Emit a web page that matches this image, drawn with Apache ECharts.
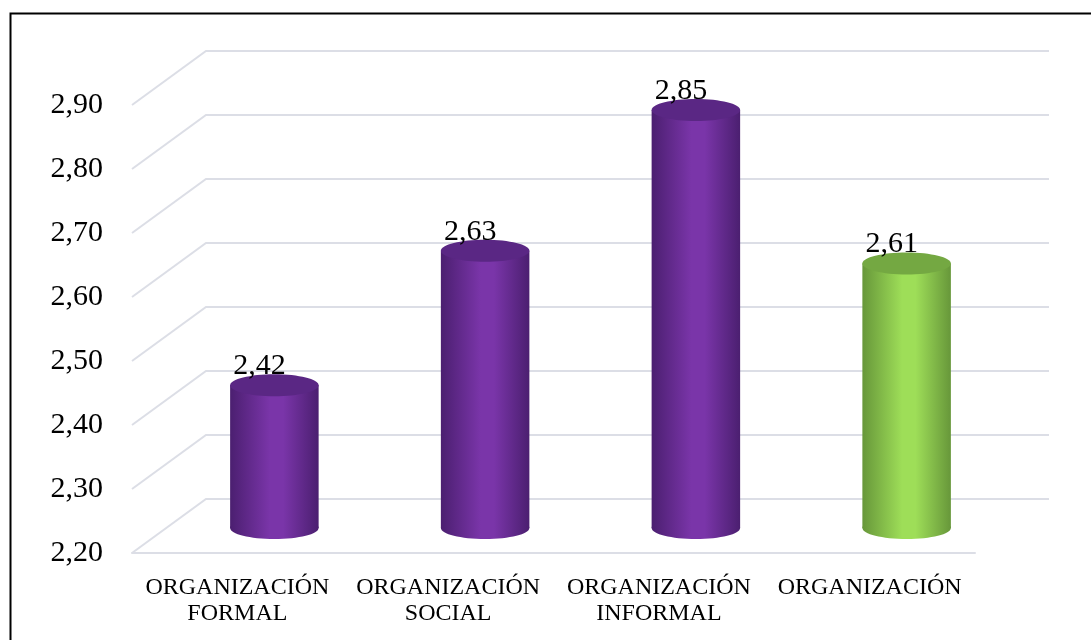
<!DOCTYPE html>
<html>
<head>
<meta charset="utf-8">
<script src="https://cdn.jsdelivr.net/npm/echarts@6/dist/echarts.min.js"></script>
<style>
  html, body { margin: 0; padding: 0; background: #fff; }
  #main { width: 1091px; height: 640px; }
</style>
</head>
<body>
<div id="main"></div>
<script>
// Data
var categories = ['ORGANIZACIÓN\nFORMAL', 'ORGANIZACIÓN\nSOCIAL', 'ORGANIZACIÓN\nINFORMAL', 'ORGANIZACIÓN'];
var values = [2.42, 2.63, 2.85, 2.61];
var yTicks = [2.2, 2.3, 2.4, 2.5, 2.6, 2.7, 2.8, 2.9];

// depth offset of the 3d look (pixels)
var DX = 74, DY = 54;

var purple = { edge: '#4b1f70', mid: '#7a35a9', top: '#5a2784' };
var green = { edge: '#67973a', mid: '#9ede58', top: '#74a842' };

function fmt(v) {
  return v.toFixed(2).replace('.', ',');
}

function renderGrid(params, api) {
  var cs = params.coordSys;
  var y = api.coord([0, api.value(1)])[1];
  return {
    type: 'polyline',
    shape: { points: [[cs.x, y], [cs.x + DX, y - DY], [cs.x + cs.width + DX, y - DY]] },
    style: { stroke: '#dcdee6', lineWidth: 2, fill: null }
  };
}

function renderBar(params, api) {
  var idx = api.value(0);
  var top = api.coord([idx, api.value(1)]);
  var base = api.coord([idx, yTicks[0]]);
  var w = api.size([1, 0])[0] * 0.42;
  var cx = top[0] + DX / 2;
  var ty = top[1] - DY / 2;
  var by = base[1] - DY / 2 + 2;
  var rx = w / 2, ry = 11;
  var c = idx === 3 ? green : purple;
  var grad = new echarts.graphic.LinearGradient(0, 0, 1, 0, [
    { offset: 0, color: c.edge },
    { offset: 0.45, color: c.mid },
    { offset: 0.6, color: c.mid },
    { offset: 1, color: c.edge }
  ]);
  return {
    type: 'group',
    children: [
      { type: 'ellipse', shape: { cx: cx, cy: by, rx: rx, ry: ry }, style: { fill: grad } },
      { type: 'rect', shape: { x: cx - rx, y: ty, width: w, height: by - ty }, style: { fill: grad } },
      { type: 'ellipse', shape: { cx: cx, cy: ty, rx: rx, ry: ry }, style: { fill: c.top } },
      {
        type: 'text',
        x: cx - 15, y: ty - 4,
        style: {
          text: fmt(api.value(1)),
          fill: '#000',
          font: '30px "Liberation Serif", "Times New Roman", serif',
          align: 'center',
          verticalAlign: 'bottom'
        }
      }
    ]
  };
}

var myChart = echarts.init(document.getElementById('main'));

var option = {
  animation: false,
  backgroundColor: '#fff',
  graphic: [
    {
      type: 'rect',
      left: 8, top: 11,
      shape: { width: 1100, height: 700 },
      style: { fill: null, stroke: '#000', lineWidth: 2 }
    }
  ],
  grid: { left: 132, right: 116, top: 105, bottom: 87 },
  xAxis: {
    type: 'category',
    data: categories,
    axisLine: { show: true, lineStyle: { color: '#dcdee6', width: 2 } },
    axisTick: { show: false },
    axisLabel: {
      interval: 0,
      color: '#000',
      fontFamily: '"Liberation Serif", "Times New Roman", serif',
      fontSize: 24,
      lineHeight: 26,
      margin: 22
    }
  },
  yAxis: {
    type: 'value',
    min: 2.2,
    max: 2.9,
    interval: 0.1,
    axisLine: { show: false },
    axisTick: { show: false },
    splitLine: { show: false },
    axisLabel: {
      color: '#000',
      fontFamily: '"Liberation Serif", "Times New Roman", serif',
      fontSize: 30,
      margin: 29,
      formatter: function (v) { return fmt(v); }
    }
  },
  series: [
    {
      type: 'custom',
      renderItem: renderGrid,
      data: yTicks.map(function (t) { return [0, t]; }),
      silent: true,
      z: 1
    },
    {
      type: 'custom',
      renderItem: renderBar,
      data: values.map(function (v, i) { return [i, v]; }),
      z: 2
    }
  ]
};

myChart.setOption(option);
</script>
</body>
</html>
